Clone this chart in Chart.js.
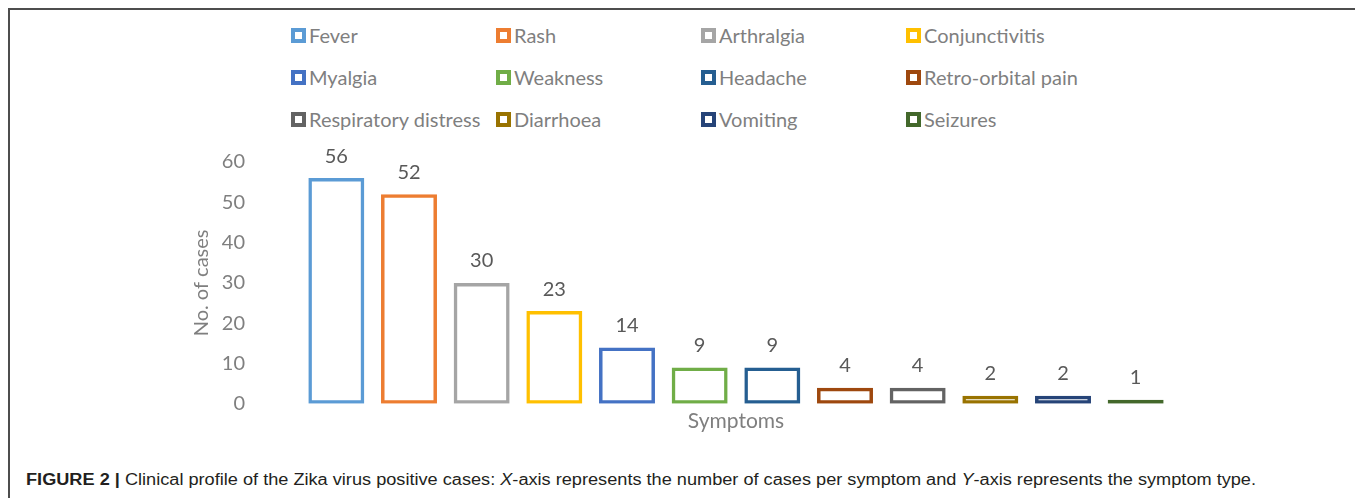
<!DOCTYPE html>
<html>
<head>
<meta charset="utf-8">
<script src="https://cdn.jsdelivr.net/npm/chart.js@4.4.1/dist/chart.umd.min.js"></script>
<style>
    body { margin: 0; background: #fff; width: 1355px; height: 498px; overflow: hidden; position: relative; font-family: Lato, sans-serif; }
    #frame { position: absolute; left: 8px; top: 8px; width: 1360px; height: 500px; border-left: 2px solid #4d4d4d; border-top: 2px solid #4d4d4d; }
    #legend .item { position: absolute; display: flex; align-items: center; height: 24px; font-size: 20px; color: #7f7f7f; white-space: nowrap; }
    #legend .box { width: 7px; height: 7px; border: 4px solid; margin-right: 3px; background: #fff; }
    #wrap { position: absolute; left: 0; top: 130px; width: 1355px; height: 310px; }
    #caption { position: absolute; left: 26px; top: 471px; font-family: "Liberation Sans", Arial, sans-serif; font-size: 16px; color: #231f20; white-space: nowrap; transform-origin: left top; }
</style>
</head>
<body>
<div id="frame"></div>
<div id="legend"></div>
<div id="wrap"><canvas id="symptomChart"></canvas></div>
<div id="caption"><b>FIGURE 2 |</b> Clinical profile of the Zika virus positive cases: <i>X</i>-axis represents the number of cases per symptom and <i>Y</i>-axis represents the symptom type.</div>

<script>
// Chart data
const symptoms = [
    'Fever', 'Rash', 'Arthralgia', 'Conjunctivitis',
    'Myalgia', 'Weakness', 'Headache', 'Retro-orbital pain',
    'Respiratory distress', 'Diarrhoea', 'Vomiting', 'Seizures'
];
const cases = [56, 52, 30, 23, 14, 9, 9, 4, 4, 2, 2, 1];
const yTicks = [0, 10, 20, 30, 40, 50, 60];

// Office palette, one colour per bar
const barColors = [
    '#5B9BD5', '#ED7D31', '#A5A5A5', '#FFC000',
    '#4472C4', '#70AD47', '#255E91', '#9E480E',
    '#636363', '#997300', '#264478', '#43682B'
];

Chart.defaults.font.family = 'Lato';

// Legend grid positions (4 columns x 3 rows)
const legendCols = [291, 496, 701, 906];
const legendRows = [35, 77, 119];

function buildLegend() {
    const box = document.getElementById('legend');
    symptoms.forEach((name, i) => {
        const item = document.createElement('div');
        item.className = 'item';
        item.style.left = legendCols[i % 4] + 'px';
        item.style.top = (legendRows[Math.floor(i / 4)] - 12) + 'px';
        const sw = document.createElement('span');
        sw.className = 'box';
        sw.style.borderColor = barColors[i];
        item.appendChild(sw);
        item.appendChild(document.createTextNode(name));
        box.appendChild(item);
    });
}

// Values written above each bar
const valueLabels = {
    id: 'valueLabels',
    afterDatasetsDraw(chart) {
        const ctx = chart.ctx;
        const meta = chart.getDatasetMeta(0);
        ctx.save();
        ctx.font = '20px Lato';
        ctx.fillStyle = '#595959';
        ctx.textAlign = 'center';
        ctx.textBaseline = 'middle';
        meta.data.forEach((bar, i) => {
            ctx.fillText(String(cases[i]), bar.x, bar.y - 22);
        });
        ctx.restore();
    }
};

function renderChart() {
    const ctx = document.getElementById('symptomChart');
    new Chart(ctx, {
        type: 'bar',
        data: {
            labels: symptoms,
            datasets: [{
                label: 'No. of cases',
                data: cases,
                backgroundColor: 'rgba(255,255,255,0)',
                borderColor: barColors,
                borderWidth: 3.5,
                borderSkipped: false,
                inflateAmount: 0,
                categoryPercentage: 1,
                barPercentage: 0.77
            }]
        },
        options: {
            responsive: true,
            maintainAspectRatio: false,
            animation: false,
            layout: {
                padding: { left: 180, right: 183, top: 32, bottom: 6 }
            },
            plugins: {
                legend: { display: false },
                tooltip: { enabled: false }
            },
            scales: {
                x: {
                    grid: { display: false, drawTicks: false },
                    border: { display: false },
                    ticks: { display: false },
                    title: {
                        display: true,
                        text: 'Symptoms',
                        color: '#7f7f7f',
                        font: { size: 21 },
                        padding: { top: 5, bottom: 0 }
                    }
                },
                y: {
                    min: yTicks[0],
                    max: yTicks[yTicks.length - 1],
                    grid: { display: false, drawTicks: false },
                    border: { display: false },
                    ticks: {
                        stepSize: yTicks[1] - yTicks[0],
                        color: '#7f7f7f',
                        font: { size: 20 },
                        padding: 55
                    },
                    title: {
                        display: true,
                        text: 'No. of cases',
                        color: '#7f7f7f',
                        font: { size: 20 },
                        padding: { top: 10, bottom: 0 }
                    },
                    afterFit(scale) {
                        // fixed axis width, and drop the extra top/bottom space the tick padding adds
                        scale.width = 120;
                        scale.paddingTop = 0;
                        scale.paddingBottom = 0;
                    }
                }
            }
        },
        plugins: [valueLabels]
    });
}

// Squeeze the caption to the width of the original
function fitCaption() {
    const cap = document.getElementById('caption');
    const w = cap.getBoundingClientRect().width;
    cap.style.transform = 'scaleX(' + (1230 / w) + ')';
}

buildLegend();
renderChart();
fitCaption();
</script>
</body>
</html>
